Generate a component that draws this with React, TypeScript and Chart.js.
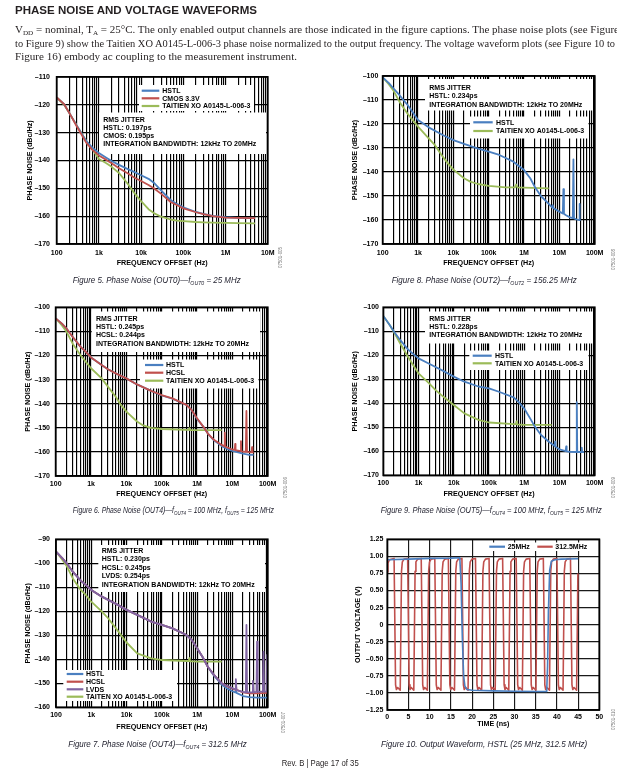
import React, { useEffect, useRef } from 'react';
import { Chart, registerables } from 'chart.js';

Chart.register(...registerables);
Chart.defaults.font.family = '"Liberation Sans", Arial, sans-serif';

const BLUE = '#4a7fc0';
const RED = '#c0504d';
const GREEN = '#9bbb59';
const PURPLE = '#8064a2';

// ---------- tick labels ----------
const DECADE_VALUES = [1e2, 1e3, 1e4, 1e5, 1e6, 1e7, 1e8];
const DECADE_LABELS = ['100', '1k', '10k', '100k', '1M', '10M', '100M'];
const LOG_MINOR = [1, 2, 3, 4, 5, 6, 7, 8, 9];

// ---------- Figure 5 ----------
const f5Freq = [100, 150, 200, 300, 500, 700, 1e3, 1.5e3, 2e3, 3e3, 5e3, 7e3, 1e4, 1.5e4, 2e4, 3e4, 5e4, 7e4, 1e5, 2e5, 3e5, 5e5, 1e6, 2e6, 5e6];
const f5Hstl = [-117.4, -119.8, -123.0, -127.5, -133.0, -135.4, -137.3, -139.0, -140.2, -141.6, -143.2, -144.2, -145.3, -146.6, -148.0, -150.8, -154.2, -155.6, -156.8, -158.5, -159.2, -159.9, -160.4, -160.6, -160.7];
const f5Cmos = [-117.4, -119.8, -123.0, -127.8, -133.6, -136.2, -138.2, -139.8, -141.0, -142.8, -144.8, -146.2, -147.4, -148.8, -150.0, -152.0, -154.9, -156.0, -157.2, -158.6, -159.3, -160.0, -160.5, -160.6, -160.7];
const f5Taitien = [-117.4, -120.0, -123.0, -127.5, -133.0, -136.0, -139.5, -141.0, -142.3, -144.5, -148.7, -151.8, -154.6, -157.5, -158.9, -160.2, -161.2, -161.6, -161.8, -162.1, -162.2, -162.3, -162.4, -162.5, -162.6];

// ---------- Figure 8 ----------
const f8HstlFreq = [100, 150, 200, 300, 500, 700, 1e3, 2e3, 5e3, 1e4, 2e4, 5e4, 1e5, 2e5, 5e5, 1e6, 1.5e6, 2e6, 3e6, 5e6, 6.3e6, 6.5e6, 6.7e6, 1e7, 1.25e7, 1.3e7, 1.35e7, 1.5e7, 2e7, 2.4e7, 2.5e7, 2.6e7, 3e7, 3.6e7, 3.7e7, 3.8e7, 4e7];
const f8Hstl = [-100.6, -103.0, -105.1, -108.0, -112.0, -115.0, -118.3, -121.4, -124.6, -126.7, -128.3, -130.3, -131.5, -132.9, -135.7, -139.2, -142.6, -146.1, -150.0, -153.3, -154.8, -153.8, -155.0, -156.5, -157.3, -147.1, -157.4, -157.9, -158.9, -159.2, -134.7, -159.3, -159.7, -160.0, -153.3, -160.0, -160.0];
const f8TaiFreq = [100, 150, 200, 300, 500, 700, 1e3, 2e3, 3e3, 5e3, 7e3, 1e4, 2e4, 3e4, 5e4, 1e5, 3e5, 5.5e5, 6e5, 6.5e5, 1e6, 5e6];
const f8Tai = [-100.6, -103.5, -106.0, -110.8, -115.6, -118.3, -121.1, -126.0, -128.8, -133.6, -136.4, -139.0, -142.6, -144.0, -145.0, -145.8, -146.4, -146.4, -145.2, -146.4, -146.5, -146.8];

// ---------- Figure 6 ----------
const f6HstlFreq = [100, 150, 200, 300, 500, 700, 1e3, 2e3, 3e3, 5e3, 1e4, 2e4, 5e4, 1e5, 2e5, 5e5, 7e5, 1e6, 1.5e6, 2e6, 3e6, 5e6, 7e6, 1e7, 2e7, 3e7, 4e7];
const f6Hstl = [-104.6, -106.8, -108.7, -112.2, -116.3, -118.4, -120.8, -123.9, -125.7, -127.4, -129.5, -132.0, -134.7, -136.6, -137.9, -140.5, -142.6, -146.3, -149.5, -152.3, -155.2, -157.6, -158.7, -159.6, -160.7, -161.2, -161.2];
const f6HcslFreq = [100, 150, 200, 300, 500, 700, 1e3, 2e3, 3e3, 5e3, 1e4, 2e4, 5e4, 1e5, 2e5, 5e5, 7e5, 1e6, 1.5e6, 2e6, 3e6, 5e6, 5.9e6, 6.1e6, 6.3e6, 1e7, 1.17e7, 1.2e7, 1.23e7, 1.7e7, 1.75e7, 1.8e7, 2.4e7, 2.5e7, 2.6e7, 3.5e7, 3.6e7, 3.7e7, 4e7];
const f6Hcsl = [-104.6, -106.8, -108.7, -112.2, -116.3, -118.4, -120.8, -123.9, -125.7, -127.4, -129.5, -132.0, -134.7, -136.4, -137.8, -140.5, -142.6, -146.0, -149.5, -152.3, -155.0, -157.1, -157.6, -152.0, -157.8, -159.0, -159.2, -156.7, -159.3, -159.7, -155.5, -159.8, -160.0, -143.0, -160.0, -160.2, -158.0, -160.2, -160.3];
const f6TaiFreq = [100, 150, 200, 300, 500, 700, 1e3, 2e3, 3e3, 5e3, 7e3, 1e4, 2e4, 3e4, 5e4, 1e5, 5e5, 5.8e5, 6e5, 6.2e5, 1e6, 5e6];
const f6Tai = [-104.6, -107.5, -110.0, -115.0, -119.8, -122.5, -125.3, -129.5, -132.9, -137.1, -140.5, -143.3, -147.4, -149.0, -150.0, -150.5, -150.9, -150.9, -150.2, -150.9, -151.0, -151.0];

// ---------- Figure 9 ----------
const f9HstlFreq = [100, 150, 200, 300, 500, 700, 1e3, 2e3, 5e3, 1e4, 2e4, 5e4, 1e5, 2e5, 5e5, 7e5, 1e6, 1.5e6, 2e6, 3e6, 5e6, 7.3e6, 7.5e6, 7.7e6, 1e7, 1.5e7, 1.55e7, 1.6e7, 2e7, 3e7, 3.1e7, 3.2e7, 4.2e7, 4.3e7, 4.4e7, 5e7];
const f9Hstl = [-103.6, -107.3, -110.1, -113.6, -117.5, -119.4, -121.3, -123.5, -126.5, -128.9, -131.0, -133.0, -133.8, -135.3, -137.5, -139.5, -142.2, -146.5, -149.7, -153.2, -156.0, -157.8, -156.0, -158.0, -159.2, -159.9, -158.0, -160.0, -160.2, -160.3, -139.5, -160.3, -160.3, -158.5, -160.3, -160.3];
const f9TaiFreq = [100, 150, 200, 300, 500, 700, 1e3, 2e3, 3e3, 5e3, 1e4, 2e4, 5e4, 1e5, 5e5, 5.8e5, 6e5, 6.2e5, 1e6, 6e6];
const f9Tai = [-103.6, -107.3, -110.3, -115.0, -120.6, -124.0, -127.5, -131.7, -134.4, -137.2, -140.7, -144.2, -146.9, -148.0, -148.7, -148.7, -147.5, -148.8, -149.0, -149.0];

// ---------- Figure 7 ----------
const f7Freq = [100, 150, 200, 300, 500, 700, 1e3, 2e3, 5e3, 1e4, 2e4, 5e4, 1e5, 2e5, 5e5, 7e5, 1e6, 1.5e6, 2e6, 3e6, 5e6, 7e6, 1e7, 1.2e7, 1.25e7, 1.3e7, 2e7, 3e7, 5e7, 1e8];
const f7Hstl = [-95.1, -97.8, -100.0, -103.5, -107.2, -109.0, -111.1, -113.9, -116.9, -119.4, -121.5, -124.3, -125.7, -127.1, -129.9, -131.9, -135.4, -139.6, -143.1, -146.8, -150.6, -152.1, -153.3, -153.8, -152.0, -154.0, -155.3, -155.8, -156.0, -156.0];
const f7Hcsl = [-95.1, -97.8, -100.0, -103.5, -107.2, -109.0, -111.1, -113.9, -116.9, -119.4, -121.5, -124.3, -125.7, -127.1, -129.9, -131.9, -135.4, -139.6, -143.1, -146.5, -150.0, -151.2, -152.2, -152.6, -150.0, -152.7, -153.8, -154.2, -154.2, -154.0];
const f7LvdsFreq = [100, 150, 200, 300, 500, 700, 1e3, 2e3, 5e3, 1e4, 2e4, 5e4, 1e5, 2e5, 5e5, 7e5, 1e6, 1.5e6, 2e6, 3e6, 5e6, 7e6, 1e7, 1.2e7, 1.25e7, 1.3e7, 2e7, 2.4e7, 2.5e7, 2.6e7, 3.6e7, 3.8e7, 4e7, 4.8e7, 5e7, 5.2e7, 6e7, 7.3e7, 7.6e7, 7.9e7, 9.3e7, 9.6e7, 1e8];
const f7Lvds = [-95.1, -97.8, -100.0, -103.5, -107.2, -109.0, -111.1, -113.9, -116.9, -119.4, -121.5, -124.3, -125.7, -127.1, -129.9, -131.9, -135.4, -139.6, -143.1, -146.5, -150.0, -151.0, -152.0, -152.6, -148.3, -152.8, -153.6, -153.8, -125.7, -153.8, -153.8, -149.0, -153.8, -153.6, -132.6, -153.6, -153.5, -153.5, -136.8, -153.5, -153.5, -138.2, -153.5];
const f7TaiFreq = [100, 150, 200, 300, 500, 700, 1e3, 2e3, 3e3, 5e3, 1e4, 2e4, 5e4, 1e5, 5e5, 5.8e5, 6e5, 6.2e5, 1e6, 5e6];
const f7Tai = [-95.1, -98.5, -101.1, -106.3, -111.1, -113.2, -116.0, -120.1, -122.9, -127.1, -133.0, -137.5, -139.6, -140.3, -140.7, -140.7, -139.5, -140.8, -141.0, -141.0];

// ---------- Figure 10 ----------
const t25 = [0, 5, 10, 15, 17.1, 17.4, 17.7, 18.0, 18.3, 18.8, 20, 25, 30, 35, 37.6, 37.8, 38.0, 38.3, 38.7, 39.5, 41, 45];
const v25 = [0.95, 0.96, 0.97, 0.975, 0.98, 0.6, -0.2, -0.75, -0.9, -0.95, -0.96, -0.97, -0.975, -0.98, -0.98, -0.6, 0.2, 0.8, 0.93, 0.95, 0.96, 0.965];
const t312 = [
  0, 0.15, 0.5,
  1.6, 1.95, 2.15, 2.45, 3.05, 3.35, 3.55, 3.95,
  4.8, 5.15, 5.35, 5.65, 6.25, 6.55, 6.75, 7.15,
  8.0, 8.35, 8.55, 8.85, 9.45, 9.75, 9.95, 10.35,
  11.2, 11.55, 11.75, 12.05, 12.65, 12.95, 13.15, 13.55,
  14.4, 14.75, 14.95, 15.25, 15.85, 16.15, 16.35, 16.75,
  17.6, 17.95, 18.15, 18.45, 19.05, 19.35, 19.55, 19.95,
  20.8, 21.15, 21.35, 21.65, 22.25, 22.55, 22.75, 23.15,
  24.0, 24.35, 24.55, 24.85, 25.45, 25.75, 25.95, 26.35,
  27.2, 27.55, 27.75, 28.05, 28.65, 28.95, 29.15, 29.55,
  30.4, 30.75, 30.95, 31.25, 31.85, 32.15, 32.35, 32.75,
  33.6, 33.95, 34.15, 34.45, 35.05, 35.35, 35.55, 35.95,
  36.8, 37.15, 37.35, 37.65, 38.25, 38.55, 38.75, 39.15,
  40.0, 40.35, 40.55, 40.85, 41.45, 41.75, 41.95, 42.35,
  43.2, 43.55, 43.75, 44.05, 44.65, 44.95,
];
const v312 = [
  0.77, 0.9, 0.95,
  0.97, -0.88, -0.95, -0.92, -0.96, 0.78, 0.92, 0.96,
  0.97, -0.88, -0.95, -0.92, -0.96, 0.78, 0.92, 0.96,
  0.97, -0.88, -0.95, -0.92, -0.96, 0.78, 0.92, 0.96,
  0.97, -0.88, -0.95, -0.92, -0.96, 0.78, 0.92, 0.96,
  0.97, -0.88, -0.95, -0.92, -0.96, 0.78, 0.92, 0.96,
  0.97, -0.88, -0.95, -0.92, -0.96, 0.78, 0.92, 0.96,
  0.97, -0.88, -0.95, -0.92, -0.96, 0.78, 0.92, 0.96,
  0.97, -0.88, -0.95, -0.92, -0.96, 0.78, 0.92, 0.96,
  0.97, -0.88, -0.95, -0.92, -0.96, 0.78, 0.92, 0.96,
  0.97, -0.88, -0.95, -0.92, -0.96, 0.78, 0.92, 0.96,
  0.97, -0.88, -0.95, -0.92, -0.96, 0.78, 0.92, 0.96,
  0.97, -0.88, -0.95, -0.92, -0.96, 0.78, 0.92, 0.96,
  0.97, -0.88, -0.95, -0.92, -0.96, 0.78, 0.92, 0.96,
  0.97, -0.88, -0.95, -0.92, -0.96, 0.75,
];

// ---------- types ----------
type Series = { xs: number[]; ys: number[]; color: string };
type Rect = { x0: number; y0: number; x1: number; y1: number };
type Txt = { x: number; y: number; text: string };
type Leg = { x0: number; x1: number; y: number; tx: number; color: string; text: string };
interface Spec {
  plot: { l: number; t: number; r: number; b: number };
  yTitle: string; yTitleX: number;
  xTitle: string; xTitleY: number;
  xLabelY: number; yLabelRight: number;
  xLog: boolean; xMin: number; xMax: number; xStep?: number;
  yMin: number; yMax: number; yStep: number; yDec: number;
  gridColor: string; lineW: number;
  series: Series[];
  boxes: Rect[]; texts: Txt[]; legend: Leg[];
}

const PN_Y = 'PHASE NOISE (dBc/Hz)';
const PN_X = 'FREQUENCY OFFSET (Hz)';
const INTEG = 'INTEGRATION BANDWIDTH: 12kHz TO 20MHz';
const TAI = 'TAITIEN XO A0145-L-006-3';

const specs: Spec[] = [
  {
    plot: { l: 56.7, t: 76, r: 267.7, b: 244 },
    yTitle: PN_Y, yTitleX: 30, xTitle: PN_X, xTitleY: 263.3, xLabelY: 253.3, yLabelRight: 50,
    xLog: true, xMin: 1e2, xMax: 1e7, yMin: -170, yMax: -110, yStep: 10, yDec: 0, gridColor: '#000', lineW: 1.8,
    series: [
      { xs: f5Freq, ys: f5Cmos, color: RED },
      { xs: f5Freq, ys: f5Hstl, color: BLUE },
      { xs: f5Freq, ys: f5Taitien, color: GREEN },
    ],
    boxes: [{ x0: 139, y0: 85, x1: 254, y1: 111 }, { x0: 99, y0: 112.5, x1: 266, y1: 154 }],
    texts: [
      { x: 103.3, y: 119.3, text: 'RMS JITTER' },
      { x: 103.3, y: 128.0, text: 'HSTL: 0.197ps' },
      { x: 103.3, y: 136.0, text: 'CMOS: 0.195ps' },
      { x: 103.3, y: 144.0, text: INTEG },
    ],
    legend: [
      { x0: 141.7, x1: 159.3, y: 90.7, tx: 162.3, color: BLUE, text: 'HSTL' },
      { x0: 141.7, x1: 159.3, y: 98.3, tx: 162.3, color: RED, text: 'CMOS 3.3V' },
      { x0: 141.7, x1: 159.3, y: 106, tx: 162.3, color: GREEN, text: TAI },
    ],
  },
  {
    plot: { l: 382.7, t: 76, r: 594.7, b: 244 },
    yTitle: PN_Y, yTitleX: 355, xTitle: PN_X, xTitleY: 263.3, xLabelY: 252.7, yLabelRight: 378.3,
    xLog: true, xMin: 1e2, xMax: 1e8, yMin: -170, yMax: -100, yStep: 10, yDec: 0, gridColor: '#000', lineW: 1.8,
    series: [
      { xs: f8HstlFreq, ys: f8Hstl, color: BLUE },
      { xs: f8TaiFreq, ys: f8Tai, color: GREEN },
    ],
    boxes: [{ x0: 425, y0: 79, x1: 593, y1: 110.5 }, { x0: 470, y0: 116.5, x1: 588.5, y1: 138.5 }],
    texts: [
      { x: 429.3, y: 87.3, text: 'RMS JITTER' },
      { x: 429.3, y: 96, text: 'HSTL: 0.234ps' },
      { x: 429.3, y: 104.3, text: INTEG },
    ],
    legend: [
      { x0: 473.3, x1: 492.7, y: 122.3, tx: 496, color: BLUE, text: 'HSTL' },
      { x0: 473.3, x1: 492.7, y: 131, tx: 496, color: GREEN, text: TAI },
    ],
  },
  {
    plot: { l: 55.7, t: 307.3, r: 267.7, b: 476 },
    yTitle: PN_Y, yTitleX: 28.3, xTitle: PN_X, xTitleY: 494, xLabelY: 484, yLabelRight: 50,
    xLog: true, xMin: 1e2, xMax: 1e8, yMin: -170, yMax: -100, yStep: 10, yDec: 0, gridColor: '#000', lineW: 1.8,
    series: [
      { xs: f6HcslFreq, ys: f6Hcsl, color: RED },
      { xs: f6HstlFreq, ys: f6Hstl, color: BLUE },
      { xs: f6TaiFreq, ys: f6Tai, color: GREEN },
    ],
    boxes: [{ x0: 91.7, y0: 311.5, x1: 260, y1: 352 }, { x0: 140, y0: 359.5, x1: 258.5, y1: 388.5 }],
    texts: [
      { x: 96, y: 318.3, text: 'RMS JITTER' },
      { x: 96, y: 326.7, text: 'HSTL: 0.245ps' },
      { x: 96, y: 335, text: 'HCSL: 0.244ps' },
      { x: 96, y: 343.3, text: INTEG },
    ],
    legend: [
      { x0: 145, x1: 163.3, y: 365, tx: 166, color: BLUE, text: 'HSTL' },
      { x0: 145, x1: 163.3, y: 372.7, tx: 166, color: RED, text: 'HCSL' },
      { x0: 145, x1: 163.3, y: 380.7, tx: 166, color: GREEN, text: TAI },
    ],
  },
  {
    plot: { l: 383.3, t: 307.3, r: 594.7, b: 475.3 },
    yTitle: PN_Y, yTitleX: 355, xTitle: PN_X, xTitleY: 494, xLabelY: 483.3, yLabelRight: 379,
    xLog: true, xMin: 1e2, xMax: 1e8, yMin: -170, yMax: -100, yStep: 10, yDec: 0, gridColor: '#000', lineW: 1.8,
    series: [
      { xs: f9HstlFreq, ys: f9Hstl, color: BLUE },
      { xs: f9TaiFreq, ys: f9Tai, color: GREEN },
    ],
    boxes: [{ x0: 425, y0: 311.5, x1: 593, y1: 343.5 }, { x0: 469.3, y0: 350.5, x1: 588.5, y1: 370 }],
    texts: [
      { x: 429.3, y: 318.3, text: 'RMS JITTER' },
      { x: 429.3, y: 326.7, text: 'HSTL: 0.228ps' },
      { x: 429.3, y: 335, text: INTEG },
    ],
    legend: [
      { x0: 472.7, x1: 491.7, y: 355.7, tx: 495, color: BLUE, text: 'HSTL' },
      { x0: 472.7, x1: 491.7, y: 363.3, tx: 495, color: GREEN, text: TAI },
    ],
  },
  {
    plot: { l: 56, t: 539.3, r: 267.7, b: 707.3 },
    yTitle: PN_Y, yTitleX: 28.3, xTitle: PN_X, xTitleY: 726.7, xLabelY: 715.3, yLabelRight: 50,
    xLog: true, xMin: 1e2, xMax: 1e8, yMin: -160, yMax: -90, yStep: 10, yDec: 0, gridColor: '#000', lineW: 1.8,
    series: [
      { xs: f7LvdsFreq, ys: f7Lvds, color: PURPLE },
      { xs: f7Freq, ys: f7Hcsl, color: RED },
      { xs: f7Freq, ys: f7Hstl, color: BLUE },
      { xs: f7TaiFreq, ys: f7Tai, color: GREEN },
    ],
    boxes: [{ x0: 98.3, y0: 545, x1: 265, y1: 592 }, { x0: 63.3, y0: 670, x1: 177, y1: 701 }],
    texts: [
      { x: 101.7, y: 550.7, text: 'RMS JITTER' },
      { x: 101.7, y: 559.2, text: 'HSTL: 0.230ps' },
      { x: 101.7, y: 567.6, text: 'HCSL: 0.245ps' },
      { x: 101.7, y: 576, text: 'LVDS: 0.254ps' },
      { x: 101.7, y: 584.3, text: INTEG },
    ],
    legend: [
      { x0: 66.7, x1: 83.3, y: 674, tx: 86, color: BLUE, text: 'HSTL' },
      { x0: 66.7, x1: 83.3, y: 681.7, tx: 86, color: RED, text: 'HCSL' },
      { x0: 66.7, x1: 83.3, y: 689.3, tx: 86, color: PURPLE, text: 'LVDS' },
      { x0: 66.7, x1: 83.3, y: 696.7, tx: 86, color: GREEN, text: 'TAITEN XO A0145-L-006-3' },
    ],
  },
  {
    plot: { l: 387.3, t: 539.3, r: 599.3, b: 710 },
    yTitle: 'OUTPUT VOLTAGE (V)', yTitleX: 358.3, xTitle: 'TIME (ns)', xTitleY: 724, xLabelY: 716.7, yLabelRight: 383.3,
    xLog: false, xMin: 0, xMax: 50, xStep: 5, yMin: -1.25, yMax: 1.25, yStep: 0.25, yDec: 2, gridColor: '#1a1a1a', lineW: 1.6,
    series: [
      { xs: t25, ys: v25, color: BLUE },
      { xs: t312, ys: v312, color: RED },
    ],
    boxes: [{ x0: 486.7, y0: 542.5, x1: 591, y1: 551 }],
    texts: [],
    legend: [
      { x0: 489.3, x1: 505, y: 546.7, tx: 507.7, color: BLUE, text: '25MHz' },
      { x0: 537.3, x1: 552.7, y: 546.7, tx: 555.3, color: RED, text: '312.5MHz' },
    ],
  },
];

function logTicks(min: number, max: number) {
  const out: number[] = [];
  const d0 = Math.round(Math.log10(min));
  const d1 = Math.round(Math.log10(max));
  for (let d = d0; d < d1; d++) for (const m of LOG_MINOR) out.push(m * Math.pow(10, d));
  out.push(max);
  return out;
}

const TICK_SIZE = 7;
const TITLE_SIZE = 7.2;

function PlotCanvas({ spec }: { spec: Spec }) {
  const ref = useRef<HTMLCanvasElement | null>(null);
  const p = spec.plot;
  const L = Math.floor(spec.yTitleX - 10);
  const T = Math.floor(p.t - 10);
  const W = Math.ceil(p.r + 18 - L);
  const H = Math.ceil(spec.xTitleY + 8 - T);

  useEffect(() => {
    if (!ref.current) return;
    const titleLh = TITLE_SIZE * 1.2;
    const tickLh = TICK_SIZE * 1.2;
    const tickFont = { family: '"Liberation Sans", Arial, sans-serif', size: TICK_SIZE, weight: 'bold' as const };
    const titleFont = { family: '"Liberation Sans", Arial, sans-serif', size: TITLE_SIZE, weight: 'bold' as const };

    const overlay = {
      id: 'overlay',
      beforeDatasetsDraw(chart: any) {
        const ctx = chart.ctx;
        ctx.save();
        ctx.fillStyle = '#fff';
        spec.boxes.forEach((b) => ctx.fillRect(b.x0 - L, b.y0 - T, b.x1 - b.x0, b.y1 - b.y0));
        ctx.fillStyle = '#000';
        ctx.font = 'bold 7px "Liberation Sans", Arial, sans-serif';
        ctx.textBaseline = 'middle';
        ctx.textAlign = 'left';
        spec.texts.forEach((t) => ctx.fillText(t.text, t.x - L, t.y - T + 0.3));
        spec.legend.forEach((s) => {
          ctx.strokeStyle = s.color;
          ctx.lineWidth = 2.2;
          ctx.beginPath();
          ctx.moveTo(s.x0 - L, s.y - T);
          ctx.lineTo(s.x1 - L, s.y - T);
          ctx.stroke();
          ctx.fillStyle = '#000';
          ctx.fillText(s.text, s.tx - L, s.y - T + 0.3);
        });
        ctx.restore();
      },
      afterDatasetsDraw(chart: any) {
        const ctx = chart.ctx;
        const a = chart.chartArea;
        ctx.save();
        ctx.strokeStyle = '#000';
        ctx.lineWidth = 1.8;
        ctx.strokeRect(a.left, a.top, a.right - a.left, a.bottom - a.top);
        ctx.restore();
      },
    };

    const xScale: any = spec.xLog
      ? {
          type: 'logarithmic',
          min: spec.xMin,
          max: spec.xMax,
          afterBuildTicks: (s: any) => {
            s.ticks = logTicks(spec.xMin, spec.xMax).map((v) => ({ value: v }));
          },
          ticks: {
            autoSkip: false, maxRotation: 0, minRotation: 0, color: '#000', font: tickFont,
            padding: spec.xLabelY - p.b - tickLh / 2,
            callback: (v: any) => {
              const i = DECADE_VALUES.findIndex((d) => Math.abs(d - Number(v)) < d * 1e-6);
              return i >= 0 ? DECADE_LABELS[i] : '';
            },
          },
        }
      : {
          type: 'linear',
          min: spec.xMin,
          max: spec.xMax,
          ticks: {
            stepSize: spec.xStep, autoSkip: false, maxRotation: 0, minRotation: 0, color: '#000', font: tickFont,
            padding: spec.xLabelY - p.b - tickLh / 2,
            callback: (v: any) => String(Math.round(Number(v))),
          },
        };
    Object.assign(xScale, {
      grid: { color: spec.gridColor, lineWidth: 1.15, drawTicks: false },
      border: { display: false },
      title: {
        display: true, text: spec.xTitle, color: '#000', font: titleFont,
        padding: { top: 0, bottom: T + H - spec.xTitleY - titleLh / 2 },
      },
      afterFit: (s: any) => { s.height = T + H - p.b; },
    });

    const yScale: any = {
      type: 'linear',
      min: spec.yMin,
      max: spec.yMax,
      ticks: {
        stepSize: spec.yStep, autoSkip: false, color: '#000', font: tickFont,
        padding: p.l - spec.yLabelRight,
        callback: (v: any) => {
          const n = Number(v);
          if (Math.abs(n) < 1e-9) return '0';
          const s = Math.abs(n).toFixed(spec.yDec);
          return n < 0 ? '\u2013' + s : s;
        },
      },
      grid: { color: spec.gridColor, lineWidth: 1.3, drawTicks: false },
      border: { display: false },
      title: {
        display: true, text: spec.yTitle, color: '#000', font: titleFont,
        padding: { top: spec.yTitleX - L - titleLh / 2, bottom: 0 },
      },
      afterFit: (s: any) => { s.width = p.l - L; },
    };

    const chart = new Chart(ref.current, {
      type: 'line',
      data: {
        datasets: spec.series.map((s) => ({
          data: s.xs.map((x, i) => ({ x, y: s.ys[i] })),
          borderColor: s.color,
          backgroundColor: s.color,
          borderWidth: spec.lineW,
          pointRadius: 0,
          fill: false,
          tension: 0,
          borderJoinStyle: 'round',
        })),
      },
      options: {
        animation: false,
        responsive: false,
        maintainAspectRatio: false,
        layout: { padding: { left: 0, top: p.t - T, right: L + W - p.r, bottom: 0 } },
        plugins: { legend: { display: false }, tooltip: { enabled: false } },
        events: [],
        scales: { x: xScale, y: yScale },
      },
      plugins: [overlay],
    } as any);
    return () => chart.destroy();
  }, []);

  return (
    <canvas
      ref={ref}
      width={W}
      height={H}
      style={{ position: 'absolute', left: L, top: T, width: W, height: H }}
    />
  );
}

type CapPart = { t: string; sub?: boolean };
const captions: { x: number; x1: number; y: number; parts: CapPart[] }[] = [
  { x: 72.7, x1: 240.7, y: 282.7, parts: [{ t: 'Figure 5. Phase Noise (OUT0)\u2014f' }, { t: 'OUT0', sub: true }, { t: ' = 25 MHz' }] },
  { x: 391.7, x1: 576.7, y: 282.7, parts: [{ t: 'Figure 8. Phase Noise (OUT2)\u2014f' }, { t: 'OUT2', sub: true }, { t: ' = 156.25 MHz' }] },
  { x: 72.7, x1: 274, y: 512.7, parts: [{ t: 'Figure 6. Phase Noise (OUT4)\u2014f' }, { t: 'OUT4', sub: true }, { t: ' = 100 MHz, f' }, { t: 'OUT5', sub: true }, { t: ' = 125 MHz' }] },
  { x: 380.7, x1: 601.7, y: 512.7, parts: [{ t: 'Figure 9. Phase Noise (OUT5)\u2014f' }, { t: 'OUT4', sub: true }, { t: ' = 100 MHz, f' }, { t: 'OUT5', sub: true }, { t: ' = 125 MHz' }] },
  { x: 68.3, x1: 246.7, y: 746.7, parts: [{ t: 'Figure 7. Phase Noise (OUT4)\u2014f' }, { t: 'OUT4', sub: true }, { t: ' = 312.5 MHz' }] },
  { x: 381, x1: 587.3, y: 746.7, parts: [{ t: 'Figure 10. Output Waveform, HSTL (25 MHz, 312.5 MHz)' }] },
];

const codes = [
  { x: 282, yb: 268, t: '07501-005' },
  { x: 615, yb: 270, t: '07501-008' },
  { x: 287, yb: 498, t: '07501-006' },
  { x: 615, yb: 498, t: '07501-009' },
  { x: 285, yb: 733, t: '07501-007' },
  { x: 614.5, yb: 730, t: '07501-010' },
];

function Caption({ c }: { c: { x: number; x1: number; y: number; parts: CapPart[] } }) {
  let prevSub = false;
  return (
    <text
      x={c.x}
      y={c.y}
      fontFamily='"Liberation Sans", Arial, sans-serif'
      fontStyle="italic"
      fontSize={9.5}
      fill="#1d1d2b"
      textLength={c.x1 - c.x}
      lengthAdjust="spacingAndGlyphs"
    >
      {c.parts.map((pt, i) => {
        const dy = pt.sub ? 1.8 : prevSub ? -1.8 : 0;
        prevSub = !!pt.sub;
        return (
          <tspan key={i} dy={dy} fontSize={pt.sub ? 6.2 : 9.5}>
            {pt.t}
          </tspan>
        );
      })}
    </text>
  );
}

export default function App() {
  return (
    <div style={{ position: 'absolute', left: 0, top: 0, width: 617, height: 772, background: '#fff', overflow: 'hidden' }}>
      {specs.map((s, i) => (
        <PlotCanvas key={i} spec={s} />
      ))}
      <svg width={617} height={772} style={{ position: 'absolute', left: 0, top: 0, pointerEvents: 'none' }}>
        <text x={15} y={14} fontFamily='"Liberation Sans", Arial, sans-serif' fontWeight="bold" fontSize={11.5} fill="#231f20" textLength={242} lengthAdjust="spacingAndGlyphs">
          PHASE NOISE AND VOLTAGE WAVEFORMS
        </text>
        <text x={15} y={33.3} fontFamily='"Liberation Serif", "Times New Roman", serif' fontSize={10.8} fill="#231f20" textLength={604} lengthAdjust="spacingAndGlyphs">
          <tspan>V</tspan>
          <tspan fontSize={7} dy={1.2}>DD</tspan>
          <tspan dy={-1.2}> = nominal, T</tspan>
          <tspan fontSize={7} dy={1.2}>A</tspan>
          <tspan dy={-1.2}> = 25°C. The only enabled output channels are those indicated in the figure captions. The phase noise plots (see Figure</tspan>
        </text>
        <text x={15} y={46.5} fontFamily='"Liberation Serif", "Times New Roman", serif' fontSize={10.8} fill="#231f20" textLength={600} lengthAdjust="spacingAndGlyphs">
          to Figure 9) show the Taitien XO A0145-L-006-3 phase noise normalized to the output frequency. The voltage waveform plots (see Figure 10 to
        </text>
        <text x={15} y={59.7} fontFamily='"Liberation Serif", "Times New Roman", serif' fontSize={10.8} fill="#231f20" textLength={282} lengthAdjust="spacingAndGlyphs">
          Figure 16) embody ac coupling to the measurement instrument.
        </text>
        {captions.map((c, i) => (
          <Caption key={i} c={c} />
        ))}
        {codes.map((c, i) => (
          <text key={i} transform={`translate(${c.x},${c.yb}) rotate(-90)`} fontFamily='"Liberation Sans", Arial, sans-serif' fontSize={5} fill="#777" textLength={21} lengthAdjust="spacingAndGlyphs">
            {c.t}
          </text>
        ))}
        <text x={281.7} y={766} fontFamily='"Liberation Sans", Arial, sans-serif' fontSize={9} fill="#231f20" textLength={77} lengthAdjust="spacingAndGlyphs">
          Rev. B | Page 17 of 35
        </text>
      </svg>
    </div>
  );
}
